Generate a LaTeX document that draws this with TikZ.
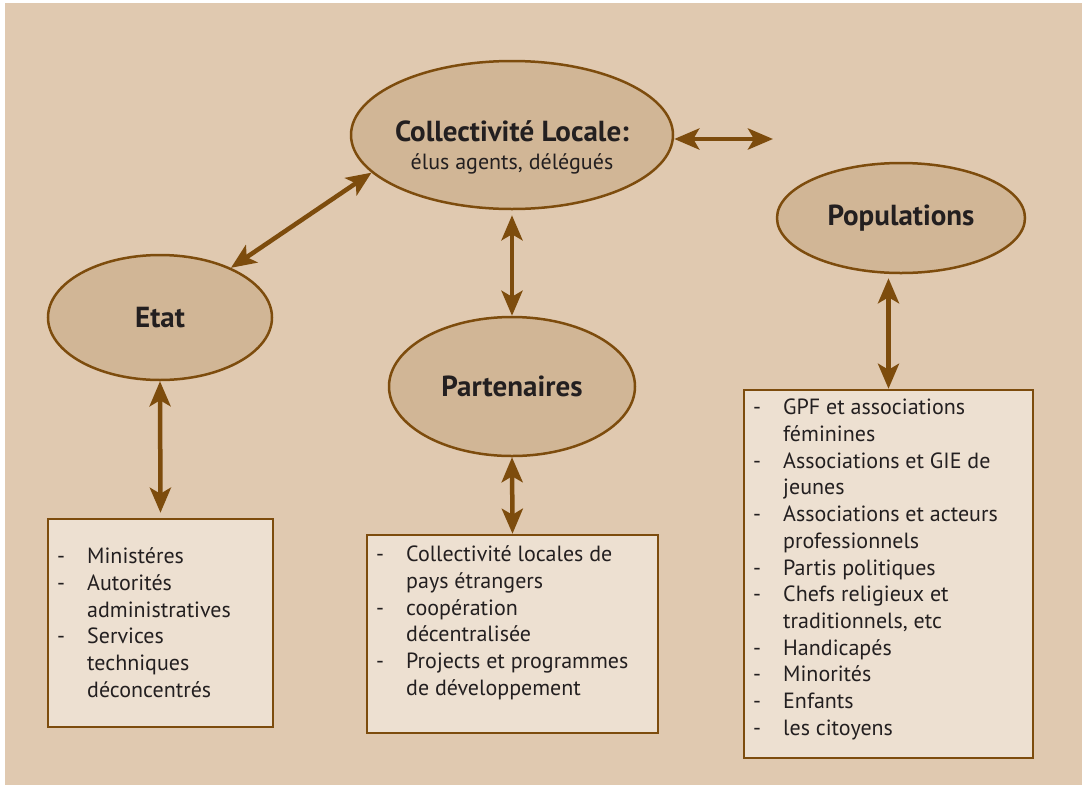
\documentclass[tikz,border=0pt]{standalone}
\usepackage{fontspec}
\setmainfont{PT Sans}
\usetikzlibrary{shapes.geometric,arrows.meta}
\definecolor{bg}{HTML}{E0C9B0}
\definecolor{ellfill}{HTML}{D1B696}
\definecolor{boxfill}{HTML}{EDE0D1}
\definecolor{brn}{HTML}{7D4C0D}
\definecolor{ink}{HTML}{231F20}
\tikzset{
  ell/.style={ellipse, draw=brn, fill=ellfill, line width=2.5pt, inner sep=0pt, text=ink,
    font=\fontsize{29}{32}\selectfont\bfseries},
  listbox/.style={rectangle, draw=brn, fill=boxfill, line width=2.5pt, inner sep=0pt},
  listtext/.style={anchor=north west, inner sep=0pt, text=ink,
    font=\fontsize{22}{26.7}\selectfont},
  link/.style={draw=brn, line width=4.5pt,
    {Stealth[length=25pt,width=21pt,inset=6pt]}-{Stealth[length=25pt,width=21pt,inset=6pt]}},
}
\newcommand{\lst}[1]{\begin{tabular}{@{}p{30pt}@{}l@{}}#1\end{tabular}}
\begin{document}
\begin{tikzpicture}[x=1pt,y=-1pt]
\useasboundingbox (0,0) rectangle (1082,785);
\fill[white] (0,0) rectangle (1082,785);
\fill[bg] (5,3) rectangle (1082,785);

% ellipses
\node[ell, minimum width=322pt, minimum height=148pt] (coll) at (512,135) {};
\node[text=ink, align=center, inner sep=0pt, font=\fontsize{29}{28}\selectfont] (colltxt) at (512,147)
  {\textbf{Collectivité Locale:}\\{\fontsize{22}{28}\selectfont élus agents, délégués}};
\node[ell, minimum width=224pt, minimum height=125pt] (etat) at (160,317.5) {Etat};
\node[ell, minimum width=246pt, minimum height=139pt] (part) at (512,386.5) {Partenaires};
\node[ell, minimum width=248pt, minimum height=110pt] (pop) at (901,218) {Populations};

% boxes
\node[listbox, minimum width=225pt, minimum height=208pt] (ebox) at (160.5,623) {};
\node[listbox, minimum width=291pt, minimum height=198pt] (pbox) at (512.5,634) {};
\node[listbox, minimum width=289pt, minimum height=368pt] (popbox) at (888.5,574) {};

\node[listtext] (etxt) at (57,545) {\lst{
- & Ministéres\\
- & Autorités\\
  & administratives\\
- & Services\\
  & techniques\\
  & déconcentrés}};
\node[listtext] (ptxt) at (376,543) {\lst{
- & Collectivité locales de\\
  & pays étrangers\\
- & coopération\\
  & décentralisée\\
- & Projects et programmes\\
  & de développement}};
\node[listtext] (poptxt) at (753,396) {\lst{
- & GPF et associations\\
  & féminines\\
- & Associations et GIE de\\
  & jeunes\\
- & Associations et acteurs\\
  & professionnels\\
- & Partis politiques\\
- & Chefs religieux et\\
  & traditionnels, etc\\
- & Handicapés\\
- & Minorités\\
- & Enfants\\
- & les citoyens}};

% connectors
\coordinate (rend) at (773,139);
\draw[link] (etat.35) -- (coll.195);
\draw[link] (coll.east |- rend) -- (rend);
\draw[link, shorten <=5pt] (coll.south) -- (part.north);
\draw[link] (part.south) -- (pbox.north);
\draw[link, shorten >=5pt] (etat.south) -- (ebox.north);
\draw[link, shorten <=4pt] (pop.south -| popbox.north) -- (popbox.north);
\end{tikzpicture}
\end{document}
